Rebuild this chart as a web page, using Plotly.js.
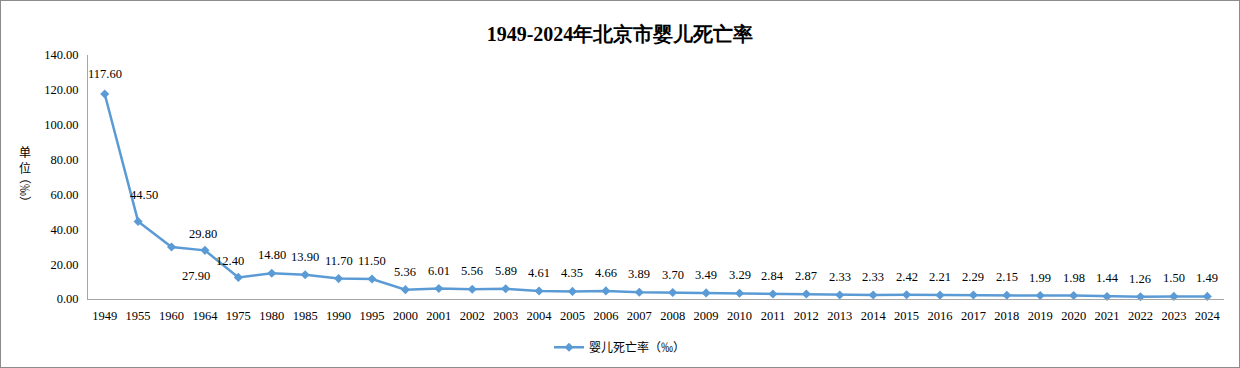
<!DOCTYPE html>
<html>
<head>
<meta charset="utf-8">
<script src="https://cdn.plot.ly/plotly-3.0.1.min.js"></script>
<style>
html,body{margin:0;padding:0;background:#fff;}
#chart{width:1240px;height:368px;box-sizing:border-box;border:1px solid #8c8c8c;}
</style>
</head>
<body>
<div id="chart"></div>
<script>
const years = ['1949','1955','1960','1964','1975','1980','1985','1990','1995',
  '2000','2001','2002','2003','2004','2005','2006','2007','2008','2009','2010',
  '2011','2012','2013','2014','2015','2016','2017','2018','2019','2020','2021',
  '2022','2023','2024'];
const rates = [117.60,44.50,29.80,27.90,12.40,14.80,13.90,11.70,11.50,
  5.36,6.01,5.56,5.89,4.61,4.35,4.66,3.89,3.70,3.49,3.29,
  2.84,2.87,2.33,2.33,2.42,2.21,2.29,2.15,1.99,1.98,1.44,
  1.26,1.50,1.49];
const seriesName = '婴儿死亡率（‰）';
const titleText = '<b>1949-2024年北京市婴儿死亡率</b>';

// label placement overrides (pixel shifts), default is above the point
const labelShift = {
  '1949': [0, 20],
  '1955': [6, 26],
  '1960': [31, 13],
  '1964': [-9, -26],
  '1975': [-8, 16]
};

const serif = '"Liberation Serif","Times New Roman",serif';
const cjk = '"Noto Sans CJK SC","Noto Sans",sans-serif';
const blue = '#5b9bd5';

const annotations = years.map((y, i) => {
  const s = labelShift[y] || [0, 18];
  return {
    x: i, y: rates[i], xref: 'x', yref: 'y',
    text: rates[i].toFixed(2), showarrow: false,
    xshift: s[0], yshift: s[1],
    font: {family: serif, size: 12.5, color: '#000'}
  };
});
annotations.push({
  xref: 'paper', yref: 'paper', x: -0.0555, y: 0.57, xanchor: 'center', yanchor: 'middle',
  text: '单<br>位', showarrow: false,
  font: {family: cjk, size: 12, color: '#000'}
});
annotations.push({
  xref: 'paper', yref: 'paper', x: -0.0555, y: 0.447, xanchor: 'center', yanchor: 'middle',
  text: '（‰）', showarrow: false, textangle: 90,
  font: {family: cjk, size: 12, color: '#000'}
});

const trace = {
  type: 'scatter', mode: 'lines+markers',
  x: years, y: rates, name: seriesName,
  line: {color: blue, width: 2.5},
  marker: {symbol: 'diamond', size: 7, color: blue},
  cliponaxis: false
};

const layout = {
  width: 1238, height: 366,
  margin: {l: 87, r: 15, t: 54, b: 68},
  paper_bgcolor: '#fff', plot_bgcolor: '#fff',
  title: {text: titleText, x: 0.5, xanchor: 'center', y: 0.91, yanchor: 'middle',
    font: {family: serif, size: 20, color: '#000'}},
  showlegend: true,
  legend: {orientation: 'h', x: 0.5, xanchor: 'center', xref: 'container',
    y: 0.054, yanchor: 'middle', yref: 'container',
    font: {family: cjk, size: 12, color: '#000'}},
  xaxis: {type: 'category', range: [-0.5, years.length - 0.5],
    showline: true, linecolor: '#a6a6a6', linewidth: 1,
    showgrid: false, zeroline: false, ticks: '', ticklabelstandoff: 5,
    tickfont: {family: serif, size: 12.5, color: '#000'}, tickangle: 0},
  yaxis: {range: [0, 140], dtick: 20, tickformat: '.2f',
    showline: true, linecolor: '#a6a6a6', linewidth: 1,
    showgrid: false, zeroline: false, ticks: '', ticklabelstandoff: 6,
    tickfont: {family: serif, size: 12.5, color: '#000'}},
  annotations: annotations
};

Plotly.newPlot('chart', [trace], layout, {displayModeBar: false, staticPlot: true});
</script>
</body>
</html>
